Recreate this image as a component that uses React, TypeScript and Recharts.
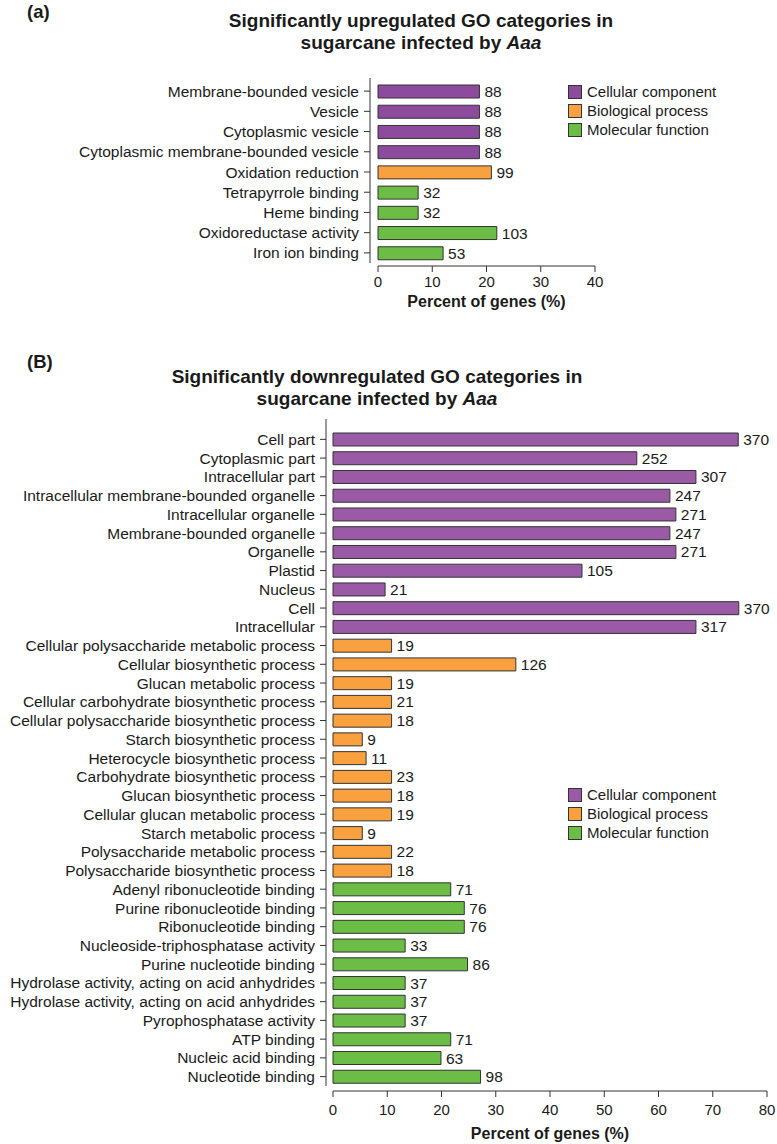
import React from 'react';
import { BarChart, Bar, XAxis, YAxis, Cell, LabelList } from 'recharts';

// (a) upregulated
const upCategories = [
  'Membrane-bounded vesicle',
  'Vesicle',
  'Cytoplasmic vesicle',
  'Cytoplasmic membrane-bounded vesicle',
  'Oxidation reduction',
  'Tetrapyrrole binding',
  'Heme binding',
  'Oxidoreductase activity',
  'Iron ion binding',
];
const upGroups = ['cc', 'cc', 'cc', 'cc', 'bp', 'mf', 'mf', 'mf', 'mf'];
const upPercent = [18.7, 18.7, 18.7, 18.7, 20.9, 7.4, 7.4, 21.9, 12.0];
const upCounts = [88, 88, 88, 88, 99, 32, 32, 103, 53];
const upTicks = [0, 10, 20, 30, 40];

// (B) downregulated
const downCategories = [
  'Cell part',
  'Cytoplasmic part',
  'Intracellular part',
  'Intracellular membrane-bounded organelle',
  'Intracellular organelle',
  'Membrane-bounded organelle',
  'Organelle',
  'Plastid',
  'Nucleus',
  'Cell',
  'Intracellular',
  'Cellular polysaccharide metabolic process',
  'Cellular biosynthetic process',
  'Glucan metabolic process',
  'Cellular carbohydrate biosynthetic process',
  'Cellular polysaccharide biosynthetic process',
  'Starch biosynthetic process',
  'Heterocycle biosynthetic process',
  'Carbohydrate biosynthetic process',
  'Glucan biosynthetic process',
  'Cellular glucan metabolic process',
  'Starch metabolic process',
  'Polysaccharide metabolic process',
  'Polysaccharide biosynthetic process',
  'Adenyl ribonucleotide binding',
  'Purine ribonucleotide binding',
  'Ribonucleotide binding',
  'Nucleoside-triphosphatase activity',
  'Purine nucleotide binding',
  'Hydrolase activity, acting on acid anhydrides',
  'Hydrolase activity, acting on acid anhydrides',
  'Pyrophosphatase activity',
  'ATP binding',
  'Nucleic acid binding',
  'Nucleotide binding',
];
const downGroups = [
  'cc', 'cc', 'cc', 'cc', 'cc', 'cc', 'cc', 'cc', 'cc', 'cc', 'cc',
  'bp', 'bp', 'bp', 'bp', 'bp', 'bp', 'bp', 'bp', 'bp', 'bp', 'bp', 'bp', 'bp',
  'mf', 'mf', 'mf', 'mf', 'mf', 'mf', 'mf', 'mf', 'mf', 'mf', 'mf',
];
const downPercent = [
  74.7, 56.0, 66.9, 62.1, 63.2, 62.1, 63.2, 45.9, 9.6, 74.8, 66.9,
  10.8, 33.7, 10.8, 10.8, 10.8, 5.4, 6.1, 10.8, 10.8, 10.8, 5.4, 10.8, 10.8,
  21.7, 24.2, 24.2, 13.3, 24.8, 13.3, 13.3, 13.3, 21.7, 19.9, 27.2,
];
const downCounts = [
  370, 252, 307, 247, 271, 247, 271, 105, 21, 370, 317,
  19, 126, 19, 21, 18, 9, 11, 23, 18, 19, 9, 22, 18,
  71, 76, 76, 33, 86, 37, 37, 37, 71, 63, 98,
];
const downTicks = [0, 10, 20, 30, 40, 50, 60, 70, 80];

const legendItems = [
  { key: 'cc', name: 'Cellular component' },
  { key: 'bp', name: 'Biological process' },
  { key: 'mf', name: 'Molecular function' },
];

const colorsA = { cc: '#8D4B9E', bp: '#F9A13F', mf: '#6BBD45' };
const colorsB = { cc: '#9A5AA5', bp: '#F9A13F', mf: '#6BBD45' };

const TEXT = '#1a1a1a';
const LINE = '#333';
const FONT = '"Liberation Sans", Arial, sans-serif';

type PanelProps = {
  label: string;
  labelTop: number;
  titleTop: number;
  titleCenter: number;
  top: number;
  height: number;
  marginTop: number;
  marginRight: number;
  axisHeight: number;
  plotLeft: number;
  axisGap: number;
  padTop: number;
  padBottom: number;
  tickMargin: number;
  titleOffset: number;
  categories: string[];
  groups: string[];
  percent: number[];
  counts: number[];
  ticks: number[];
  colors: Record<string, string>;
  legendTop: number;
};

const Panel = (p: PanelProps) => {
  const data = p.categories.map((name, i) => ({
    name: `${i}|${name}`,
    pct: p.percent[i],
    count: p.counts[i],
    group: p.groups[i],
  }));
  const plotH = p.height - p.marginTop - p.axisHeight;
  const step = (plotH - p.padTop - p.padBottom) / data.length;

  const CategoryTick = (t: any) => {
    const { x, y, payload, index } = t;
    const ax = x - p.axisGap;
    const text = String(payload.value).split('|')[1];
    return (
      <g>
        {index === 0 && (
          <line
            x1={ax}
            x2={ax}
            y1={y - step / 2 - p.padTop}
            y2={y - step / 2 + step * data.length}
            stroke={LINE}
          />
        )}
        <line x1={ax - 6} x2={ax} y1={y} y2={y} stroke={LINE} />
        <text x={ax - 11} y={y} dy="0.36em" textAnchor="end" fontSize={15.5} fill={TEXT}>
          {text}
        </text>
      </g>
    );
  };

  return (
    <>
      <div style={{ position: 'absolute', left: 27, top: p.labelTop, fontSize: 18.5, fontWeight: 'bold', color: TEXT, lineHeight: '20px' }}>
        {p.label}
      </div>
      <div
        style={{
          position: 'absolute',
          left: p.titleCenter - 300,
          width: 600,
          top: p.titleTop,
          textAlign: 'center',
          fontSize: 19,
          fontWeight: 'bold',
          lineHeight: '22px',
          color: TEXT,
        }}
      >
        <div>{p.label === '(a)' ? 'Significantly upregulated GO categories in' : 'Significantly downregulated GO categories in'}</div>
        <div>
          sugarcane infected by <i>Aaa</i>
        </div>
      </div>
      <div style={{ position: 'absolute', left: 0, top: p.top }}>
        <BarChart
          layout="vertical"
          width={777}
          height={p.height}
          data={data}
          margin={{ top: p.marginTop, right: p.marginRight, bottom: 0, left: 0 }}
        >
          <XAxis
            type="number"
            domain={[0, p.ticks[p.ticks.length - 1]]}
            ticks={p.ticks}
            height={p.axisHeight}
            tickSize={6}
            tickMargin={p.tickMargin}
            axisLine={{ stroke: LINE }}
            tickLine={{ stroke: LINE }}
            tick={{ fontSize: 15, fill: TEXT }}
            label={{
              value: 'Percent of genes (%)',
              position: 'insideBottom',
              offset: p.titleOffset,
              style: { fontSize: 16, fontWeight: 'bold', fill: TEXT },
            }}
          />
          <YAxis
            type="category"
            dataKey="name"
            width={p.plotLeft}
            interval={0}
            axisLine={false}
            tickLine={false}
            tickSize={0}
            tickMargin={0}
            padding={{ top: p.padTop, bottom: p.padBottom }}
            tick={CategoryTick}
          />
          <Bar dataKey="pct" barSize={13} stroke={LINE} strokeWidth={1} isAnimationActive={false}>
            {data.map((d, i) => (
              <Cell key={i} fill={p.colors[d.group]} />
            ))}
            <LabelList dataKey="count" position="right" offset={5} style={{ fontSize: 15.5, fill: TEXT }} />
          </Bar>
        </BarChart>
      </div>
      <div style={{ position: 'absolute', left: 568, top: p.legendTop }}>
        {legendItems.map((it) => (
          <div key={it.key} style={{ display: 'flex', alignItems: 'center', height: 19 }}>
            <div
              style={{
                width: 12,
                height: 12,
                background: p.colors[it.key],
                border: `1px solid ${LINE}`,
                marginRight: 5,
              }}
            />
            <span style={{ fontSize: 15, color: TEXT }}>{it.name}</span>
          </div>
        ))}
      </div>
    </>
  );
};

export default function App() {
  return (
    <div style={{ position: 'absolute', left: 0, top: 0, width: 777, height: 1144, background: '#fff', fontFamily: FONT }}>
      <Panel
        label="(a)"
        labelTop={2}
        titleTop={10}
        titleCenter={421}
        top={0}
        height={310}
        marginTop={78}
        marginRight={182}
        axisHeight={44}
        plotLeft={378}
        axisGap={8}
        padTop={3}
        padBottom={3}
        tickMargin={4}
        titleOffset={3}
        categories={upCategories}
        groups={upGroups}
        percent={upPercent}
        counts={upCounts}
        ticks={upTicks}
        colors={colorsA}
        legendTop={82}
      />
      <Panel
        label="(B)"
        labelTop={352}
        titleTop={366}
        titleCenter={377}
        top={340}
        height={804}
        marginTop={79}
        marginRight={10}
        axisHeight={53}
        plotLeft={333}
        axisGap={7}
        padTop={11}
        padBottom={5}
        tickMargin={7}
        titleOffset={5}
        categories={downCategories}
        groups={downGroups}
        percent={downPercent}
        counts={downCounts}
        ticks={downTicks}
        colors={colorsB}
        legendTop={785}
      />
    </div>
  );
}
